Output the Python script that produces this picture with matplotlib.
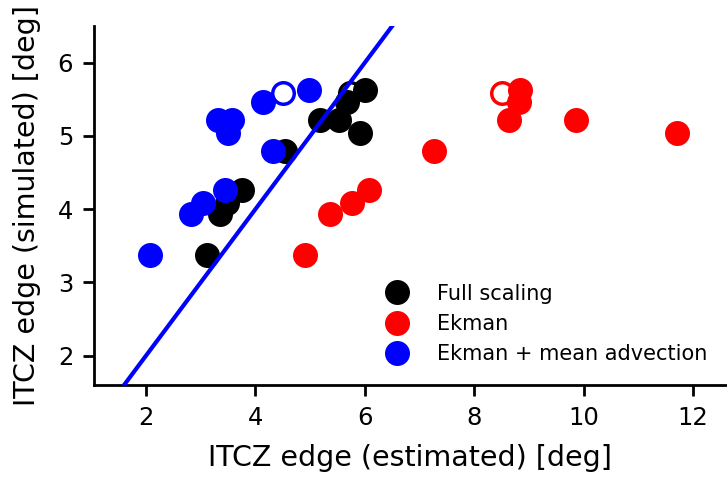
import numpy as np
import matplotlib
matplotlib.use("Agg")
import matplotlib.pyplot as plt

# simulated ITCZ edge, shared by all three estimates
y_sim = [3.375, 3.94, 4.08, 4.26, 4.80, 5.04, 5.22, 5.22, 5.46, 5.63]
y_open = 5.58

# estimated ITCZ edge per scaling
x_full = [3.12, 3.35, 3.48, 3.76, 4.54, 5.91, 5.18, 5.52, 5.67, 6.00]
x_ekman = [4.91, 5.36, 5.76, 6.08, 7.27, 11.71, 8.63, 9.86, 8.81, 8.84]
x_ekman_adv = [2.07, 2.82, 3.05, 3.44, 4.32, 3.50, 3.32, 3.58, 4.13, 4.98]

# open marker (reference case)
x_open = {"k": 5.73, "r": 8.50, "b": 4.51}

series = [
    ("Full scaling", x_full, "k"),
    ("Ekman", x_ekman, "r"),
    ("Ekman + mean advection", x_ekman_adv, "b"),
]

fig = plt.figure(figsize=(7.27, 4.78), dpi=100)
ax = fig.add_axes([94 / 727, 93 / 478, 632 / 727, 359 / 478])

for label, xs, c in series:
    ax.plot(x_open[c], y_open, "o", ms=15.5, mfc="w", mec=c, mew=2.5, zorder=2)
    ax.plot(xs, y_sim, "o", ms=18, color=c, mec="none", ls="none", label=label, zorder=2)

one = np.array([1.0, 7.0])
ax.plot(one, one, "b-", lw=3, zorder=3)

ax.set_xlim(1.05, 12.6)
ax.set_ylim(1.6, 6.5)
ax.set_xticks([2, 4, 6, 8, 10, 12])
ax.set_yticks([2, 3, 4, 5, 6])
ax.spines["top"].set_visible(False)
ax.spines["right"].set_visible(False)
ax.spines["left"].set_linewidth(2)
ax.spines["bottom"].set_linewidth(2)
ax.tick_params(width=2, length=8, labelsize=17.5, pad=7)
ax.set_xlabel("ITCZ edge (estimated) [deg]", fontsize=20.5, labelpad=10)
ax.set_ylabel("ITCZ edge (simulated) [deg]", fontsize=20.5, labelpad=12)

ax.legend(loc="lower right", frameon=False, fontsize=15, numpoints=1,
          handletextpad=0.9, labelspacing=0.5, bbox_to_anchor=(1.0, 0.005))

fig.savefig("out.png", dpi=100)
